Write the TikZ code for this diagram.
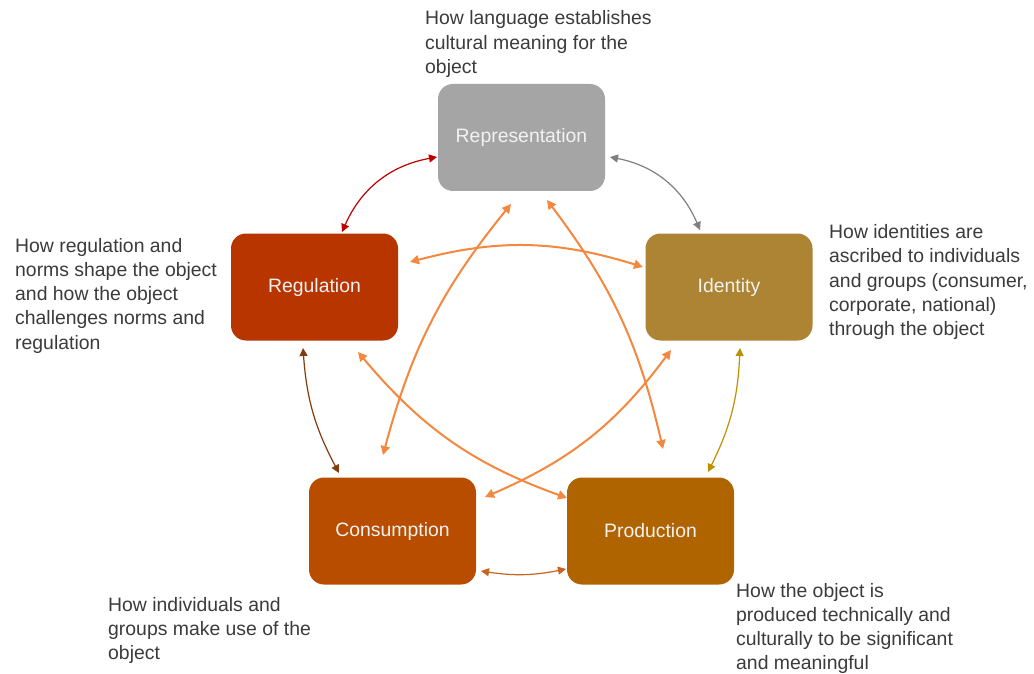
\documentclass[tikz,border=0pt]{standalone}
\usepackage{fontspec}
\setmainfont{Liberation Sans}
\usetikzlibrary{arrows.meta,calc}
\definecolor{repc}{HTML}{A5A5A5}
\definecolor{regc}{HTML}{B83500}
\definecolor{idec}{HTML}{AD8433}
\definecolor{conc}{HTML}{B84D00}
\definecolor{proc}{HTML}{B06400}
\definecolor{txt}{HTML}{3B3B3B}
\definecolor{boxtxt}{HTML}{F2F2F2}
\definecolor{orng}{HTML}{F4883E}
\definecolor{redc}{HTML}{C00000}
\definecolor{grayc}{HTML}{7F7F7F}
\definecolor{brownc}{HTML}{843C0C}
\definecolor{goldc}{HTML}{BF9000}
\definecolor{darkorng}{HTML}{C8641E}
\begin{document}
\begin{tikzpicture}[x=1pt,y=-1pt,
  box/.style={rounded corners=15pt, minimum width=167pt, minimum height=107pt, inner sep=0pt, text=boxtxt, font=\fontsize{19.4}{24}\selectfont},
  caption/.style={anchor=north west, inner sep=0pt, align=left, text=txt, font=\fontsize{19.4}{24.2}\selectfont},
  tlink/.style={line width=1.2pt, {Triangle[length=8pt,width=8pt]}-{Triangle[length=8pt,width=8pt]}},
  blink/.style={line width=2pt, orng, {Triangle[length=9pt,width=9pt]}-{Triangle[length=9pt,width=9pt]}},
]
\useasboundingbox[fill=white] (0,0) rectangle (1034,674);

\node[box, fill=repc] (rep) at (521.5,137.5) {Representation};
\node[box, fill=regc] (reg) at (314.5,287) {Regulation};
\node[box, fill=idec] (ide) at (729,287) {Identity};
\node[box, fill=conc] (con) at (392.5,531) {Consumption};
\node[box, fill=proc] (pro) at (650.5,531) {Production};

\node[caption] (caprep) at (425,10.7) {How language establishes\\cultural meaning for the\\object};
\node[caption] (capreg) at (15,238) {How regulation and\\norms shape the object\\and how the object\\challenges norms and\\regulation};
\node[caption] (capide) at (829,224.5) {How identities are\\ascribed to individuals\\and groups (consumer,\\corporate, national)\\through the object};
\node[caption] (capcon) at (108,597) {How individuals and\\groups make use of the\\object};
\node[caption] (cappro) at (736,583) {How the object is\\produced technically and\\culturally to be significant\\and meaningful};

% thin outer links
\draw[tlink, redc] ([shift={(-84.5,19.5)}]rep.center) to[bend right=28] ([shift={(27.5,-55)}]reg.center);
\draw[tlink, grayc] ([shift={(88.5,19.5)}]rep.center) to[bend left=28] ([shift={(-29,-57)}]ide.center);
\draw[tlink, brownc] ([shift={(-11.5,61)}]reg.center) to[bend right=12] ([shift={(-53.5,-58)}]con.center);
\draw[tlink, goldc] ([shift={(11,61)}]ide.center) to[bend left=12] ([shift={(57.5,-59)}]pro.center);
\draw[tlink, darkorng] ([shift={(88.5,40)}]con.center) to[bend right=10] ([shift={(-84.5,38)}]pro.center);

% inner star links
\draw[blink] ([shift={(95.5,-25)}]reg.center) to[bend left=16] ([shift={(-86,-20)}]ide.center);
\draw[blink] ([shift={(-10.5,66.5)}]rep.center) to[bend right=12] ([shift={(-9.5,-76)}]con.center);
\draw[blink] ([shift={(25.5,62.5)}]rep.center) to[bend left=12] ([shift={(12.5,-82)}]pro.center);
\draw[blink] ([shift={(43.5,65)}]reg.center) to[bend right=15] ([shift={(-83.5,-33)}]pro.center);
\draw[blink] ([shift={(-58,63)}]ide.center) to[bend left=15] ([shift={(92.5,-34)}]con.center);
\end{tikzpicture}
\end{document}
